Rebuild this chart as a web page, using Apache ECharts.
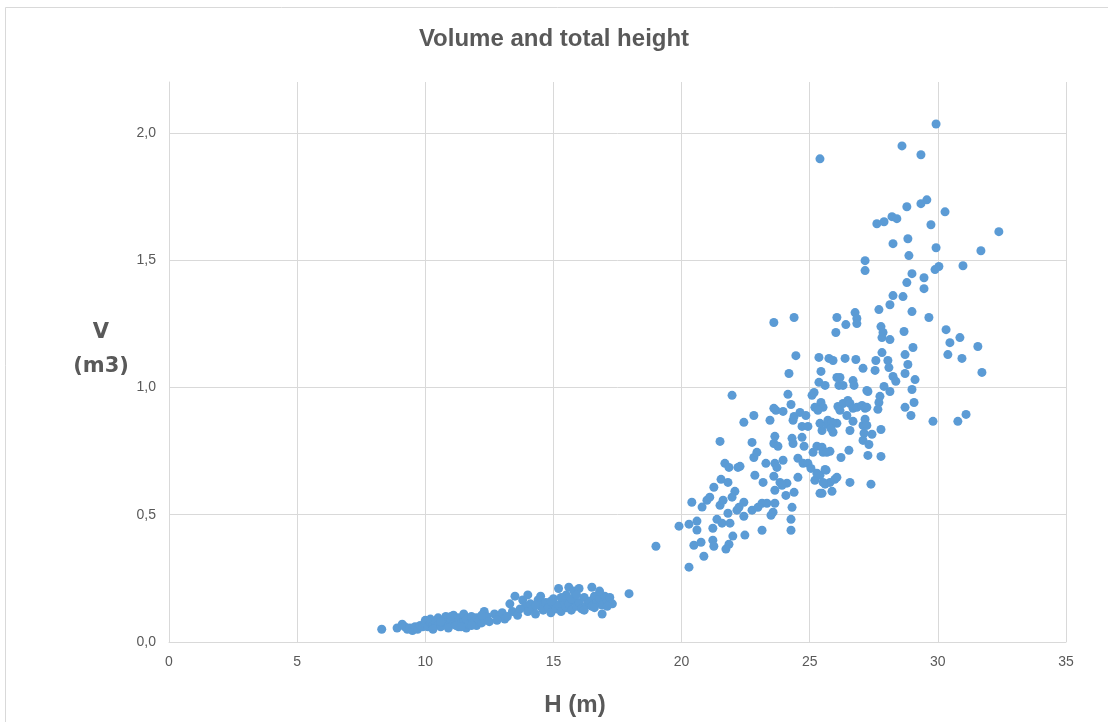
<!DOCTYPE html>
<html>
<head>
<meta charset="utf-8">
<script src="https://cdn.jsdelivr.net/npm/echarts@6/dist/echarts.min.js"></script>
<style>
html,body{margin:0;padding:0;background:#fff;}
#chart{width:1108px;height:722px;}
</style>
</head>
<body>
<div id="chart"></div>
<script>
// Labels
const chartTitle = 'Volume and total height';
const xName = 'H (m)';
const yName = 'V\n(m3)';

// Axis ticks
const xTicks = [0, 5, 10, 15, 20, 25, 30, 35];
const yTicks = [0, 0.5, 1.0, 1.5, 2.0];

// Small trees: [H (m), V (m3)]
const smallTrees = [
[8.3,0.05],[8.9,0.055],[9.1,0.07],[9.2,0.06],[9.3,0.05],[9.4,0.055],[9.5,0.045],[9.6,0.06],[9.7,0.05],[9.8,0.065],
[9.9,0.06],[10.0,0.07],[10.0,0.085],[10.1,0.06],[10.2,0.075],[10.2,0.09],[10.3,0.065],[10.4,0.08],[10.5,0.07],[10.5,0.095],
[10.6,0.06],[10.7,0.085],[10.8,0.075],[10.8,0.1],[10.9,0.065],[11.0,0.08],[11.0,0.09],[11.1,0.07],[11.1,0.105],[11.2,0.085],
[11.3,0.06],[11.3,0.095],[11.4,0.075],[11.5,0.08],[11.5,0.11],[11.6,0.055],[11.6,0.09],[11.7,0.07],[11.8,0.1],[11.9,0.08],
[12.0,0.065],[12.0,0.095],[12.1,0.085],[12.2,0.075],[12.3,0.12],[12.3,0.09],[12.4,0.1],[12.5,0.08],[12.7,0.11],[12.9,0.1],
[13.0,0.115],[13.1,0.09],[13.3,0.15],[13.4,0.12],[13.5,0.18],[13.6,0.105],[13.8,0.165],[13.9,0.14],[14.0,0.12],[14.0,0.185],
[14.1,0.15],[14.2,0.13],[14.3,0.11],[14.4,0.165],[14.5,0.14],[14.5,0.18],[14.6,0.125],[14.7,0.155],[14.8,0.135],[14.9,0.115],
[15.0,0.15],[15.0,0.17],[15.1,0.13],[15.2,0.21],[15.2,0.145],[15.3,0.12],[15.4,0.16],[15.5,0.185],[15.5,0.135],[15.6,0.215],
[15.6,0.15],[15.7,0.125],[15.8,0.2],[15.8,0.165],[15.9,0.14],[16.0,0.21],[16.0,0.155],[16.1,0.13],[16.2,0.175],[16.3,0.145],
[16.4,0.16],[16.5,0.215],[16.5,0.14],[16.6,0.18],[16.7,0.155],[16.8,0.17],[16.9,0.11],[16.9,0.145],[17.0,0.18],[17.1,0.16],
[17.2,0.175],[17.3,0.15],[17.95,0.19],
[10.3,0.05],[10.9,0.055],[11.2,0.065],[11.4,0.06],[11.8,0.065],[12.2,0.105],[11.0,0.1],[10.6,0.08],[14.9,0.16],[15.3,0.175],
[15.7,0.17],[16.2,0.125],[16.6,0.135],[17.1,0.14],[14.3,0.145],[13.7,0.13],[12.8,0.085],[13.2,0.1],[15.9,0.185],[16.8,0.2]
];

// Large trees: [H (m), V (m3)]
const largeTrees = [
[19.0,0.376],[20.29,0.294],[19.9,0.455],[20.29,0.463],[20.6,0.475],[20.4,0.549],[20.6,0.44],[20.48,0.38],[20.76,0.392],[20.87,0.337],
[20.8,0.53],[20.99,0.557],[21.1,0.569],[21.26,0.608],[21.54,0.639],[21.5,0.788],[21.22,0.447],[21.22,0.4],[21.26,0.376],[21.38,0.482],
[21.5,0.537],[21.62,0.557],[21.58,0.467],[21.81,0.627],[21.69,0.702],[21.85,0.686],[22.2,0.686],[22.08,0.592],[21.97,0.569],[21.81,0.506],
[21.89,0.467],[22.0,0.416],[21.85,0.384],[21.73,0.365],[22.16,0.518],[22.24,0.529],[22.43,0.549],[22.43,0.494],[22.47,0.42],[22.43,0.863],
[22.75,0.784],[22.82,0.725],[22.94,0.745],[22.86,0.655],[23.18,0.627],[23.29,0.702],[22.75,0.518],[22.98,0.529],[23.14,0.545],[23.33,0.545],
[23.49,0.498],[23.14,0.439],[23.45,0.871],[23.64,0.808],[23.6,0.78],[23.76,0.769],[23.64,0.702],[23.72,0.686],[23.6,0.651],[23.84,0.627],
[23.96,0.714],[23.64,0.596],[23.64,0.545],[23.57,0.51],[24.07,0.576],[24.11,0.624],[24.27,0.482],[24.27,0.439],[24.31,0.529],[24.39,0.588],
[24.31,0.8],[24.35,0.78],[24.35,0.871],[24.54,0.722],[24.54,0.647],[24.7,0.804],[24.78,0.769],[24.7,0.847],[24.93,0.847],[24.74,0.702],
[24.93,0.702],[25.05,0.682],[25.13,0.745],[25.2,0.635],[25.28,0.769],[25.4,0.655],[25.48,0.765],[25.52,0.745],[25.48,0.584],[25.6,0.62],
[25.64,0.675],[25.79,0.627],[25.87,0.592],[25.79,0.749],[25.98,0.639],[26.06,0.647],[26.22,0.725],[26.53,0.753],[26.57,0.627],[26.57,0.831],
[25.48,0.831],[25.4,0.859],[25.67,0.855],[25.91,0.824],[26.06,0.859],[26.69,0.867],[22.28,0.69],[23.92,0.616],[25.4,0.584],[25.28,0.663],
[25.52,0.627],[25.6,0.678],[25.67,0.745],
[27.27,0.733],[27.78,0.729],[27.08,0.792],[27.31,0.776],[27.39,0.62],
[21.97,0.969],[23.6,1.255],[24.39,1.275],[24.46,1.125],[24.19,1.055],[24.15,0.973],[24.27,0.933],[23.6,0.918],[23.68,0.91],[23.96,0.906],
[22.82,0.89],[24.39,0.886],[24.62,0.902],[24.85,0.89],[25.09,0.969],[25.17,0.98],[25.36,1.02],[25.44,1.063],[25.36,1.118],[25.75,1.114],
[25.91,1.106],[26.38,1.114],[26.8,1.11],[26.06,1.275],[26.02,1.216],[26.41,1.247],[26.77,1.294],[26.84,1.271],[26.84,1.251],[25.6,1.008],
[26.06,1.039],[26.18,1.039],[26.14,1.008],[26.3,1.008],[26.69,1.027],[26.73,1.008],[27.08,1.075],[27.23,0.988],[25.44,0.941],[25.52,0.922],
[25.2,0.922],[25.32,0.91],[25.71,0.871],[25.87,0.863],[25.83,0.839],[26.1,0.925],[26.3,0.937],[26.18,0.91],[26.49,0.949],[26.57,0.937],
[26.69,0.918],[26.84,0.922],[27.04,0.929],[27.16,0.918],[26.45,0.89],[27.08,0.851],[27.12,0.82],
[28.79,1.412],[29.46,1.388],[28.25,1.361],[28.64,1.357],[28.13,1.325],[27.7,1.306],[28.99,1.298],[29.65,1.275],[27.78,1.239],[27.86,1.216],
[28.68,1.22],[27.82,1.196],[28.13,1.188],[30.32,1.227],[30.86,1.196],[30.47,1.176],[31.56,1.161],[30.39,1.129],[30.94,1.114],[31.72,1.059],
[29.03,1.157],[28.72,1.129],[27.82,1.137],[28.83,1.09],[27.58,1.106],[28.05,1.106],[28.09,1.078],[27.55,1.067],[28.72,1.055],[29.11,1.031],
[28.25,1.043],[28.36,1.024],[28.99,0.992],[27.9,1.004],[28.13,0.984],[27.27,0.984],[27.74,0.965],[27.7,0.941],[27.66,0.914],[29.07,0.941],
[28.72,0.922],[28.95,0.89],[29.81,0.867],[31.1,0.894],[30.78,0.867],[27.23,0.922],[27.16,0.875],[27.23,0.851],[27.43,0.816],[27.78,0.835],
[29.93,2.035],[28.6,1.949],[29.34,1.914],[25.4,1.898],[29.57,1.737],[29.34,1.722],[28.79,1.71],[30.28,1.69],[28.21,1.671],[28.4,1.663],
[27.9,1.651],[27.62,1.643],[29.73,1.639],[28.83,1.584],[28.25,1.565],[29.93,1.549],[32.38,1.612],[31.68,1.537],[28.87,1.518],[27.16,1.498],
[27.16,1.459],[30.04,1.475],[29.89,1.463],[30.98,1.478],[28.99,1.447],[29.46,1.431]
];

const sans = "'Liberation Sans', Arial, sans-serif";
const grey = '#595959';
const gridGrey = '#d9d9d9';

const chart = echarts.init(document.getElementById('chart'), null, {renderer: 'canvas'});
chart.setOption({
  animation: false,
  backgroundColor: '#ffffff',
  title: {
    text: chartTitle,
    left: 'center',
    top: 22,
    textStyle: {fontFamily: sans, fontSize: 24, fontWeight: 'bold', color: grey}
  },
  graphic: [
    {type: 'rect', shape: {x: 5.5, y: 7.5, width: 1130, height: 740}, style: {fill: 'none', stroke: gridGrey, lineWidth: 1}, silent: true, z: -1},
    {type: 'text', x: 101, y: 316, style: {text: yName, fontFamily: "'DejaVu Sans', sans-serif", fontSize: 21, fontWeight: 'bold', fill: grey, align: 'center', verticalAlign: 'top', lineHeight: 34}},
    {type: 'text', x: 575, y: 705, style: {text: xName, fontFamily: sans, fontSize: 24, fontWeight: 'bold', fill: grey, align: 'center', verticalAlign: 'middle'}}
  ],
  grid: {left: 169, right: 42, top: 82, bottom: 80, containLabel: false},
  xAxis: {
    type: 'value',
    min: xTicks[0], max: xTicks[xTicks.length - 1], interval: 5,
    axisLine: {show: true, lineStyle: {color: gridGrey}},
    axisTick: {show: false},
    splitLine: {show: true, lineStyle: {color: gridGrey}},
    axisLabel: {color: grey, fontFamily: sans, fontSize: 14, margin: 13}
  },
  yAxis: {
    type: 'value',
    min: 0, max: 2.2, interval: 0.5,
    axisLine: {show: true, lineStyle: {color: gridGrey}},
    axisTick: {show: false},
    splitLine: {show: true, showMaxLine: false, lineStyle: {color: gridGrey}},
    axisLabel: {
      color: grey, fontFamily: sans, fontSize: 14, margin: 13, showMaxLabel: false,
      formatter: v => (yTicks.indexOf(v) >= 0 ? v.toFixed(1).replace('.', ',') : '')
    }
  },
  series: [{
    type: 'scatter',
    data: smallTrees.concat(largeTrees),
    symbol: 'circle',
    symbolSize: 9,
    itemStyle: {color: '#5b9bd5', opacity: 1}
  }]
});
</script>
</body>
</html>
